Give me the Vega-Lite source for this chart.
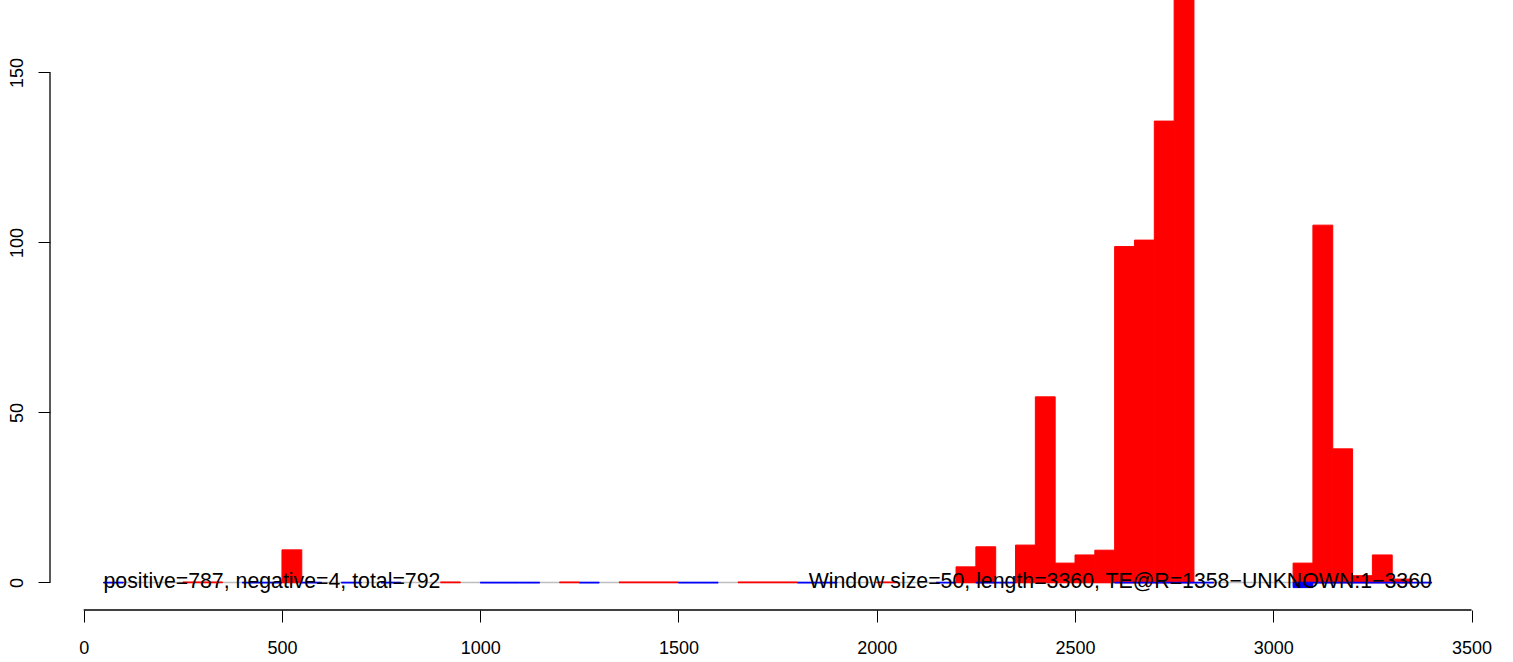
{
  "$schema": "https://vega.github.io/schema/vega-lite/v6.json",
  "width": 1435,
  "height": 610,
  "autosize": {"type": "none"},
  "padding": {"left": 50, "top": 0, "right": 28, "bottom": 52},
  "background": "white",
  "config": {
    "view": {"stroke": null},
    "axis": {"grid": false, "labelFont": "Liberation Sans", "labelFontSize": 18, "labelColor": "black", "tickColor": "black", "tickWidth": 1, "tickSize": 12, "domain": false, "title": null}
  },
  "datasets": {
    "windows": [
      {"start": 50, "end": 100, "pos": 0, "neg": -0.1},
      {"start": 100, "end": 150, "pos": 0, "neg": 0},
      {"start": 150, "end": 200, "pos": 0, "neg": 0},
      {"start": 200, "end": 250, "pos": 0, "neg": 0},
      {"start": 250, "end": 300, "pos": 0.1, "neg": 0},
      {"start": 300, "end": 350, "pos": 0.1, "neg": 0},
      {"start": 350, "end": 400, "pos": 0, "neg": 0},
      {"start": 400, "end": 450, "pos": 0, "neg": -0.1},
      {"start": 450, "end": 500, "pos": 0, "neg": -0.1},
      {"start": 500, "end": 550, "pos": 9.6, "neg": 0},
      {"start": 550, "end": 600, "pos": 0, "neg": -0.1},
      {"start": 600, "end": 650, "pos": 0, "neg": 0},
      {"start": 650, "end": 700, "pos": 0, "neg": -0.1},
      {"start": 700, "end": 750, "pos": 0, "neg": 0},
      {"start": 750, "end": 800, "pos": 0, "neg": -0.1},
      {"start": 800, "end": 850, "pos": 0, "neg": 0},
      {"start": 850, "end": 900, "pos": 0, "neg": 0},
      {"start": 900, "end": 950, "pos": 0.1, "neg": 0},
      {"start": 950, "end": 1000, "pos": 0, "neg": 0},
      {"start": 1000, "end": 1050, "pos": 0, "neg": -0.1},
      {"start": 1050, "end": 1100, "pos": 0, "neg": -0.1},
      {"start": 1100, "end": 1150, "pos": 0, "neg": -0.1},
      {"start": 1150, "end": 1200, "pos": 0, "neg": 0},
      {"start": 1200, "end": 1250, "pos": 0.1, "neg": 0},
      {"start": 1250, "end": 1300, "pos": 0, "neg": -0.1},
      {"start": 1300, "end": 1350, "pos": 0, "neg": 0},
      {"start": 1350, "end": 1400, "pos": 0.1, "neg": 0},
      {"start": 1400, "end": 1450, "pos": 0.1, "neg": 0},
      {"start": 1450, "end": 1500, "pos": 0.1, "neg": 0},
      {"start": 1500, "end": 1550, "pos": 0, "neg": -0.1},
      {"start": 1550, "end": 1600, "pos": 0, "neg": -0.1},
      {"start": 1600, "end": 1650, "pos": 0, "neg": 0},
      {"start": 1650, "end": 1700, "pos": 0.1, "neg": 0},
      {"start": 1700, "end": 1750, "pos": 0.1, "neg": 0},
      {"start": 1750, "end": 1800, "pos": 0.1, "neg": 0},
      {"start": 1800, "end": 1850, "pos": 0, "neg": -0.1},
      {"start": 1850, "end": 1900, "pos": 0, "neg": -0.1},
      {"start": 1900, "end": 1950, "pos": 0, "neg": 0},
      {"start": 1950, "end": 2000, "pos": 0, "neg": 0},
      {"start": 2000, "end": 2050, "pos": 0.1, "neg": 0},
      {"start": 2050, "end": 2100, "pos": 0, "neg": 0},
      {"start": 2100, "end": 2150, "pos": 0, "neg": 0},
      {"start": 2150, "end": 2200, "pos": 0, "neg": -0.1},
      {"start": 2200, "end": 2250, "pos": 4.6, "neg": 0},
      {"start": 2250, "end": 2300, "pos": 10.5, "neg": -0.1},
      {"start": 2300, "end": 2350, "pos": 0, "neg": -0.1},
      {"start": 2350, "end": 2400, "pos": 11, "neg": 0},
      {"start": 2400, "end": 2450, "pos": 54.6, "neg": 0},
      {"start": 2450, "end": 2500, "pos": 5.7, "neg": 0},
      {"start": 2500, "end": 2550, "pos": 8.1, "neg": 0},
      {"start": 2550, "end": 2600, "pos": 9.5, "neg": 0},
      {"start": 2600, "end": 2650, "pos": 98.8, "neg": -0.1},
      {"start": 2650, "end": 2700, "pos": 100.7, "neg": -0.1},
      {"start": 2700, "end": 2750, "pos": 135.7, "neg": -0.1},
      {"start": 2750, "end": 2800, "pos": 176, "neg": -0.1},
      {"start": 2800, "end": 2850, "pos": 0, "neg": -0.1},
      {"start": 2850, "end": 2900, "pos": 0, "neg": 0},
      {"start": 2900, "end": 2950, "pos": 0, "neg": 0},
      {"start": 2950, "end": 3000, "pos": 0, "neg": 0},
      {"start": 3000, "end": 3050, "pos": 0, "neg": 0},
      {"start": 3050, "end": 3100, "pos": 5.7, "neg": -1.5},
      {"start": 3100, "end": 3150, "pos": 105.1, "neg": -0.1},
      {"start": 3150, "end": 3200, "pos": 39.3, "neg": -0.1},
      {"start": 3200, "end": 3250, "pos": 2, "neg": -0.1},
      {"start": 3250, "end": 3300, "pos": 8.1, "neg": -0.1},
      {"start": 3300, "end": 3350, "pos": 1, "neg": -0.1},
      {"start": 3350, "end": 3400, "pos": 0, "neg": -0.1}
    ],
    "labels": [
      {"x": 50, "label": "positive=787, negative=4, total=792", "side": "left"},
      {"x": 3400, "label": "Window size=50, length=3360, TE@R=1358\u2212UNKNOWN:1\u22123360", "side": "right"}
    ]
  },
  "layer": [
    {
      "data": {"name": "windows"},
      "mark": {"type": "rule", "color": "#BEBEBE", "strokeWidth": 1.5},
      "encoding": {
        "x": {"field": "start", "type": "quantitative", "scale": {"domain": [-85, 3534], "nice": false, "zero": false}, "axis": {"values": [0, 500, 1000, 1500, 2000, 2500, 3000, 3500], "format": "d", "labelPadding": 17, "labelBaseline": "top", "labelFlush": false, "labelOverlap": false}},
        "x2": {"field": "end"},
        "y": {"datum": 0, "type": "quantitative", "scale": {"domain": [-8.09, 171.32], "nice": false, "zero": false}, "axis": {"values": [0, 50, 100, 150], "format": "d", "labelAngle": -90, "labelAlign": "center", "labelBaseline": "bottom", "labelPadding": 12, "labelFlush": false, "labelOverlap": false}}
      }
    },
    {
      "data": {"name": "windows"},
      "transform": [{"filter": "datum.pos > 0"}],
      "mark": {"type": "rect", "color": "#FF0000", "stroke": "#FF0000", "strokeWidth": 1, "clip": true},
      "encoding": {
        "x": {"field": "start", "type": "quantitative"},
        "x2": {"field": "end"},
        "y": {"field": "pos", "type": "quantitative"},
        "y2": {"datum": 0}
      }
    },
    {
      "data": {"name": "windows"},
      "transform": [{"filter": "datum.pos > 0"}],
      "mark": {"type": "rule", "color": "#FF0000", "strokeWidth": 1.5},
      "encoding": {
        "x": {"field": "start", "type": "quantitative"},
        "x2": {"field": "end"},
        "y": {"datum": 0}
      }
    },
    {
      "data": {"name": "windows"},
      "transform": [{"filter": "datum.neg < 0"}],
      "mark": {"type": "rect", "color": "#0000FF", "stroke": "#0000FF", "strokeWidth": 1},
      "encoding": {
        "x": {"field": "start", "type": "quantitative"},
        "x2": {"field": "end"},
        "y": {"field": "neg", "type": "quantitative"},
        "y2": {"datum": 0}
      }
    },
    {
      "data": {"name": "windows"},
      "transform": [{"filter": "datum.neg < 0"}],
      "mark": {"type": "rule", "color": "#0000FF", "strokeWidth": 1.5},
      "encoding": {
        "x": {"field": "start", "type": "quantitative"},
        "x2": {"field": "end"},
        "y": {"datum": 0}
      }
    },
    {
      "data": {"values": [{"a": 0, "b": 3500}]},
      "mark": {"type": "rule", "color": "black", "strokeWidth": 1.3},
      "encoding": {
        "x": {"field": "a", "type": "quantitative"},
        "x2": {"field": "b"},
        "y": {"datum": -8.09}
      }
    },
    {
      "data": {"values": [{"a": 0, "b": 150}]},
      "mark": {"type": "rule", "color": "black", "strokeWidth": 1.3},
      "encoding": {
        "x": {"datum": -85},
        "y": {"field": "a", "type": "quantitative"},
        "y2": {"field": "b"}
      }
    },
    {
      "data": {"name": "labels"},
      "transform": [{"filter": "datum.side == 'left'"}],
      "mark": {"type": "text", "align": "left", "baseline": "middle", "font": "Liberation Sans", "fontSize": 21.3, "color": "black"},
      "encoding": {
        "x": {"field": "x", "type": "quantitative"},
        "y": {"datum": 0},
        "text": {"field": "label"}
      }
    },
    {
      "data": {"name": "labels"},
      "transform": [{"filter": "datum.side == 'right'"}],
      "mark": {"type": "text", "align": "right", "baseline": "middle", "font": "Liberation Sans", "fontSize": 21.3, "color": "black"},
      "encoding": {
        "x": {"field": "x", "type": "quantitative"},
        "y": {"datum": 0},
        "text": {"field": "label"}
      }
    }
  ]
}
